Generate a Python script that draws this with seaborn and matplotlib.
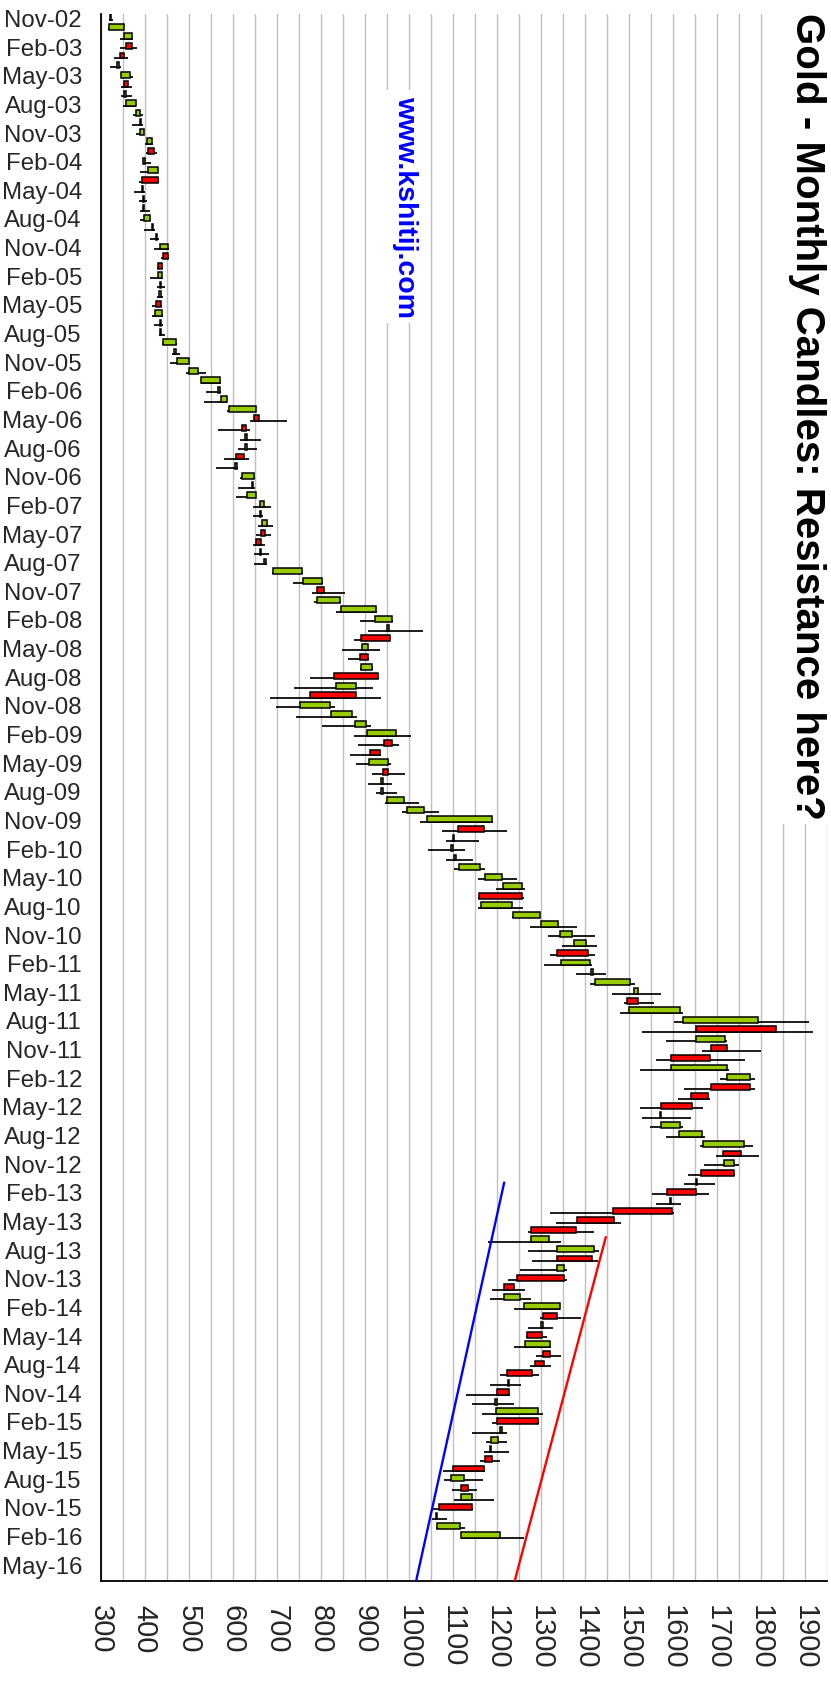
import matplotlib
matplotlib.use("Agg")
import matplotlib.pyplot as plt
import matplotlib.transforms as mtransforms
import numpy as np
import pandas as pd
import seaborn as sns
from matplotlib.patches import Rectangle

# monthly candles, Nov-02 .. Feb-16
opens = [321, 319, 352, 372, 353, 338, 347, 361, 354, 357,
         380, 389, 389, 406, 420, 397, 408, 430, 394, 395,
         395, 398, 416, 426, 434, 453, 440, 430, 435, 433,
         436, 424, 435, 435, 442, 467, 474, 500, 529, 566,
         574, 592, 660, 630, 629, 629, 625, 606, 620, 643,
         633, 661, 661, 667, 674, 665, 661, 671, 692, 760,
         808, 792, 847, 924, 951, 957, 894, 908, 892, 930,
         834, 880, 752, 824, 879, 906, 961, 934, 910, 953,
         938, 938, 951, 997, 1042, 1171, 1100, 1097, 1103, 1114,
         1174, 1214, 1257, 1165, 1237, 1301, 1343, 1375, 1407, 1347,
         1414, 1424, 1511, 1521, 1500, 1623, 1834, 1652, 1724, 1684,
         1597, 1724, 1775, 1680, 1644, 1570, 1574, 1614, 1669, 1756,
         1716, 1739, 1652, 1652, 1593, 1598, 1466, 1380, 1279, 1338,
         1417, 1338, 1353, 1239, 1216, 1261, 1338, 1301, 1303, 1265,
         1320, 1307, 1280, 1225, 1229, 1196, 1198, 1294, 1207, 1188,
         1184, 1189, 1170, 1097, 1134, 1119, 1144, 1061, 1065, 1119]
highs = [327, 354, 374, 383, 361, 345, 373, 370, 370, 381,
         396, 396, 399, 419, 428, 415, 431, 433, 400, 405,
         411, 415, 423, 433, 455, 455, 442, 442, 447, 442,
         440, 442, 442, 445, 473, 480, 501, 539, 573, 574,
         588, 654, 723, 640, 665, 655, 637, 612, 650, 650,
         654, 688, 669, 692, 688, 673, 683, 677, 760, 805,
         856, 845, 929, 964, 1033, 958, 934, 909, 919, 932,
         919, 938, 832, 883, 914, 1005, 977, 936, 959, 992,
         961, 974, 1023, 1068, 1192, 1224, 1160, 1129, 1145, 1174,
         1247, 1265, 1262, 1259, 1299, 1383, 1424, 1429, 1424, 1416,
         1448, 1515, 1574, 1557, 1623, 1910, 1919, 1723, 1801, 1765,
         1728, 1788, 1788, 1684, 1669, 1642, 1623, 1674, 1782, 1796,
         1751, 1741, 1697, 1682, 1619, 1603, 1483, 1420, 1347, 1432,
         1430, 1360, 1360, 1265, 1279, 1344, 1392, 1328, 1314, 1324,
         1347, 1324, 1296, 1256, 1230, 1239, 1305, 1295, 1223, 1223,
         1229, 1207, 1173, 1169, 1156, 1193, 1145, 1088, 1129, 1261]
lows = [319, 317, 343, 343, 330, 320, 345, 345, 345, 351,
        373, 372, 381, 400, 402, 395, 390, 387, 376, 387,
        390, 390, 398, 413, 420, 438, 427, 413, 427, 427,
        417, 417, 421, 432, 439, 461, 457, 493, 527, 539,
        535, 586, 640, 567, 616, 612, 580, 563, 617, 612,
        607, 645, 645, 658, 654, 645, 648, 648, 690, 736,
        781, 785, 834, 889, 908, 875, 848, 862, 890, 775,
        739, 684, 698, 743, 802, 876, 885, 866, 880, 917,
        908, 925, 945, 984, 1026, 1075, 1085, 1043, 1085, 1103,
        1157, 1198, 1157, 1157, 1235, 1275, 1317, 1349, 1321, 1308,
        1380, 1411, 1462, 1489, 1480, 1602, 1531, 1584, 1666, 1561,
        1525, 1707, 1626, 1612, 1525, 1530, 1548, 1584, 1661, 1698,
        1670, 1635, 1625, 1553, 1561, 1322, 1334, 1270, 1180, 1271,
        1280, 1252, 1226, 1189, 1184, 1239, 1298, 1271, 1266, 1239,
        1290, 1275, 1207, 1184, 1130, 1144, 1166, 1189, 1144, 1176,
        1171, 1163, 1077, 1080, 1098, 1103, 1055, 1054, 1063, 1118]
closes = [324, 353, 372, 357, 343, 341, 366, 352, 357, 380,
          389, 392, 398, 417, 408, 400, 430, 393, 397, 398,
          398, 413, 419, 429, 453, 442, 430, 440, 438, 436,
          425, 439, 438, 438, 472, 470, 500, 521, 572, 570,
          586, 652, 648, 620, 633, 633, 607, 610, 648, 647,
          652, 671, 665, 679, 665, 652, 665, 675, 758, 804,
          792, 843, 925, 962, 955, 892, 908, 889, 917, 830,
          880, 775, 820, 870, 902, 970, 943, 911, 952, 942,
          942, 942, 989, 1035, 1189, 1111, 1104, 1101, 1107, 1161,
          1212, 1257, 1160, 1235, 1298, 1339, 1371, 1402, 1338, 1413,
          1418, 1502, 1521, 1497, 1616, 1794, 1652, 1720, 1686, 1597,
          1724, 1775, 1686, 1642, 1574, 1574, 1616, 1666, 1761, 1714,
          1739, 1665, 1656, 1588, 1597, 1464, 1383, 1277, 1320, 1421,
          1338, 1353, 1246, 1216, 1252, 1343, 1305, 1305, 1269, 1320,
          1306, 1288, 1224, 1229, 1201, 1200, 1294, 1201, 1211, 1203,
          1188, 1174, 1101, 1125, 1119, 1144, 1069, 1065, 1117, 1208]

month_labels = ["Nov-02", "Feb-03", "May-03", "Aug-03", "Nov-03", "Feb-04", "May-04",
                "Aug-04", "Nov-04", "Feb-05", "May-05", "Aug-05", "Nov-05", "Feb-06",
                "May-06", "Aug-06", "Nov-06", "Feb-07", "May-07", "Aug-07", "Nov-07",
                "Feb-08", "May-08", "Aug-08", "Nov-08", "Feb-09", "May-09", "Aug-09",
                "Nov-09", "Feb-10", "May-10", "Aug-10", "Nov-10", "Feb-11", "May-11",
                "Aug-11", "Nov-11", "Feb-12", "May-12", "Aug-12", "Nov-12", "Feb-13",
                "May-13", "Aug-13", "Nov-13", "Feb-14", "May-14", "Aug-14", "Nov-14",
                "Feb-15", "May-15", "Aug-15", "Nov-15", "Feb-16", "May-16"]
price_ticks = list(range(300, 2000, 100))

# hand drawn trend lines: price and month position of each end
blue_price = [1217, 1017]
blue_month = [122.4, 164.1]
red_price = [1448, 1241]
red_month = [128.1, 164.1]

TITLE = "Gold - Monthly Candles: Resistance here?"
WATERMARK = "www.kshitij.com"

sns.set_style("white")
plt.rcParams["font.family"] = ["Liberation Sans", "DejaVu Sans"]

W, H = 831, 1690
fig = plt.figure(figsize=(W / 100, H / 100), dpi=100)
ax = fig.add_axes([100.7 / W, 1 - 1581.7 / H, (826.7 - 100.7) / W, (1581.7 - 15) / H])

df = pd.DataFrame({"open": opens, "high": highs, "low": lows, "close": closes})
df["pos"] = np.arange(len(df)) + 0.35
df["color"] = np.where(df["close"] >= df["open"], "#99cc00", "#ff0000")

ax.hlines(df["pos"] + 0.25, df["low"], df["high"], color="black", lw=1.25, zorder=2)
ax.barh(df["pos"], df["close"] - df["open"], left=df["open"], height=0.62,
        color=df["color"], edgecolor="black", linewidth=1.1, zorder=3)

trend = pd.DataFrame({"price": blue_price + red_price,
                      "month": blue_month + red_month,
                      "line": ["blue"] * 2 + ["red"] * 2})
sns.lineplot(data=trend, x="price", y="month", hue="line", sort=False, estimator=None,
             palette={"blue": "#0000ff", "red": "#ff0000"}, lw=1.7, legend=False,
             ax=ax, zorder=4)

ax.set_xlim(300, 1950)
ax.set_ylim(164.1, 0)
ax.set_xlabel("")
ax.set_ylabel("")

ax.set_xticks(price_ticks)
ax.set_xticks(np.arange(350, 2000, 100), minor=True)
ax.set_yticks(np.arange(len(month_labels)) * 3)
ax.set_yticklabels(month_labels)
ax.set_axisbelow(True)
ax.grid(True, axis="x", which="both", color="#c0c0c0", lw=1.0)
ax.grid(False, axis="y")

for side in ["top", "right"]:
    ax.spines[side].set_visible(False)
for side in ["left", "bottom"]:
    ax.spines[side].set_color("black")
    ax.spines[side].set_linewidth(1.3)

ax.tick_params(axis="x", which="major", direction="inout", length=13, width=1.3,
               color="black", pad=10, labelsize=21, labelrotation=-90)
ax.tick_params(axis="x", which="minor", length=0)
ax.tick_params(axis="y", direction="inout", length=11, width=1.3, color="black",
               pad=8, labelsize=17.3)
for lab in ax.get_xticklabels():
    lab.set_va("top")
    lab.set_ha("center")
shift = mtransforms.ScaledTranslation(0, -0.035, fig.dpi_scale_trans)
for lab in ax.get_yticklabels():
    lab.set_transform(lab.get_transform() + shift)

# white band behind the title hides the grid there
fig.add_artist(Rectangle((770 / W, 1 - 825 / H), 61 / W, 825 / H, transform=fig.transFigure,
                         facecolor="white", edgecolor="none", zorder=1))
fig.text(807 / W, 1 - 13 / H, TITLE, rotation=-90, ha="center", va="top",
         fontsize=29, fontweight="bold", color="black", zorder=3)
fig.text(405 / W, 1 - 207.5 / H, WATERMARK, rotation=-90, ha="center", va="center",
         fontsize=20.5, fontweight="bold", color="#0000ff", zorder=3,
         bbox=dict(facecolor="white", edgecolor="none", pad=4))

fig.savefig("out.png", dpi=100)
